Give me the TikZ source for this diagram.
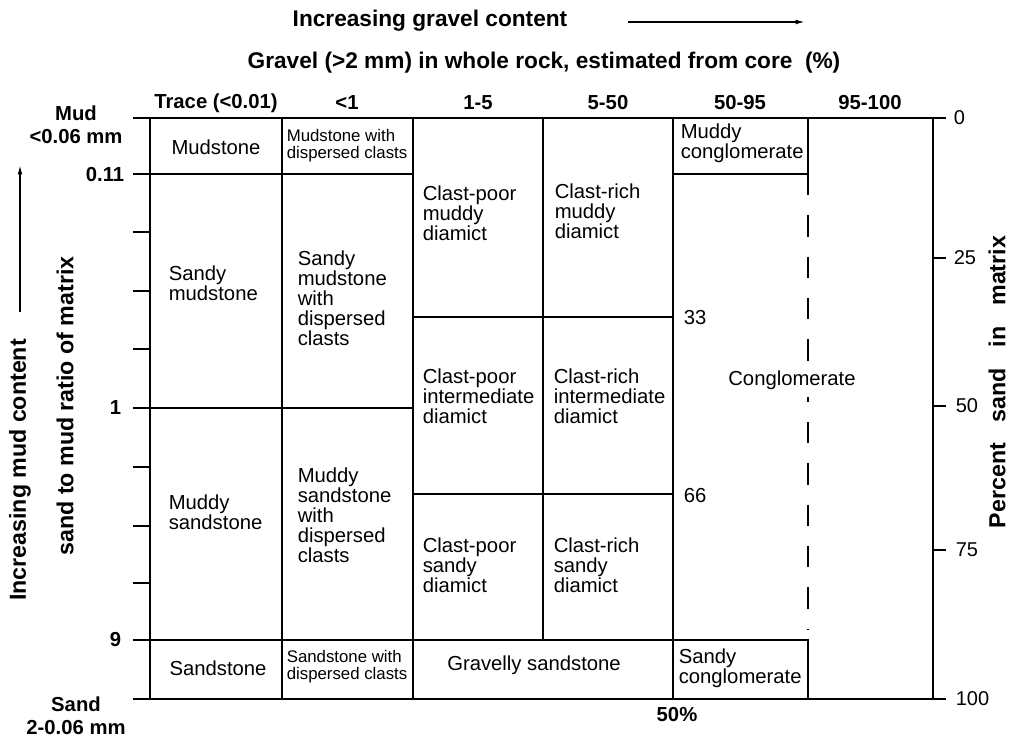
\documentclass[tikz,border=0pt]{standalone}
\usepackage{fontspec}
\setmainfont{Liberation Sans}
\usetikzlibrary{arrows.meta}

\begin{document}
\begin{tikzpicture}[x=0.75pt, y=-0.75pt, line width=1.2pt,
    cell/.style={align=left, anchor=west, inner sep=0pt, font=\fontsize{15.2}{15}\selectfont},
    small/.style={align=left, anchor=west, inner sep=0pt, font=\fontsize{12.6}{12.8}\selectfont},
    head/.style={inner sep=0pt, font=\fontsize{15.2}{17.5}\selectfont\bfseries},
    title/.style={inner sep=0pt, font=\fontsize{17}{17}\selectfont\bfseries},
    side/.style={inner sep=0pt, rotate=90, font=\fontsize{17.4}{17.4}\selectfont\bfseries},
    num/.style={anchor=west, inner sep=0pt, font=\fontsize{15}{15}\selectfont},
    arr/.style={line width=1pt, -{Latex[length=7pt, width=3.5pt]}}]
    \fill[white] (0,0) rectangle (1011,738);
    \useasboundingbox (0,0) rectangle (1011,738);

    % titles
    \node[title] (gravtitle) at (430,21) {Increasing gravel content};
    \coordinate (ga) at (628,22);
    \coordinate (gb) at (805,22);
    \draw[arr] (ga) -- (gb);
    \node[title] (gravaxis) at (544,63) {Gravel (>2 mm) in whole rock, estimated from core\ \ (\%)};

    % column heads
    \node[head] (h1) at (216,103) {Trace (<0.01)};
    \node[head] (h2) at (347,103) {<1};
    \node[head] (h3) at (478,103) {1-5};
    \node[head] (h4) at (608,103) {5-50};
    \node[head] (h5) at (740,103) {50-95};
    \node[head] (h6) at (870,103) {95-100};

    % frame and grid
    \draw (133,118) -- (946,118);
    \draw (133,699) -- (946,699);
    \foreach \x in {150,282,413,673,933}
        \draw (\x,118) -- (\x,699);
    \draw (543,118) -- (543,640);
    \draw (808,118) -- (808,174) -- (673,174);
    \draw (133,174) -- (413,174);
    \draw (133,408) -- (413,408);
    \draw (133,640) -- (808,640) -- (808,699);
    \draw (413,317) -- (673,317);
    \draw (413,494) -- (673,494);
    \draw[dash pattern=on 16pt off 15pt] (808,174) -- (808,630);

    % ticks
    \foreach \y in {232,291,349,467,526,583}
        \draw (133,\y) -- (150,\y);
    \foreach \y in {258,406,550}
        \draw (933,\y) -- (946,\y);

    % left scale
    \node[head, align=center] (mud) at (76,125) {Mud\\<0.06 mm};
    \node[head, anchor=east] (l011) at (125,175) {0.11};
    \node[head, anchor=east] (l1) at (122,408) {1};
    \node[head, anchor=east] (l9) at (122,640) {9};
    \node[head, align=center] (sand) at (76,716) {Sand\\2-0.06 mm};
    \node[side] (incmud) at (20,470) {Increasing mud content};
    \coordinate (ma) at (20,312);
    \coordinate (mb) at (20,165);
    \draw[arr] (ma) -- (mb);
    \node[side] (ratio) at (65,406) {sand to mud ratio of matrix};

    % right scale
    \node[num] (r0) at (953,118) {0};
    \node[num] (r25) at (953,258) {25};
    \node[num] (r50) at (955,406) {50};
    \node[num] (r75) at (955,550) {75};
    \node[num] (r100) at (955,699) {100};
    \node[side] (pctsand) at (997,382) {Percent\hspace{0.9em}sand\hspace{0.9em}in\hspace{0.9em}matrix};

    % cells
    \node[cell, anchor=center] (mudst) at (216,147) {Mudstone};
    \node[small] (mudcl) at (286,146) {Mudstone with\\dispersed clasts};
    \node[cell] (sdmud) at (168,283) {Sandy\\mudstone};
    \node[cell] (sdmudcl) at (297,298) {Sandy\\mudstone\\with\\dispersed\\clasts};
    \node[cell] (mdsand) at (168,512) {Muddy\\sandstone};
    \node[cell] (mdsandcl) at (297,515) {Muddy\\sandstone\\with\\dispersed\\clasts};
    \node[cell] (cpmud) at (422,213) {Clast-poor\\muddy\\diamict};
    \node[cell] (crmud) at (554,211) {Clast-rich\\muddy\\diamict};
    \node[cell] (cpint) at (422,396) {Clast-poor\\intermediate\\diamict};
    \node[cell] (crint) at (553,396) {Clast-rich\\intermediate\\diamict};
    \node[cell] (cpsand) at (422,565) {Clast-poor\\sandy\\diamict};
    \node[cell] (crsand) at (553,565) {Clast-rich\\sandy\\diamict};
    \node[cell] (mudcong) at (680,143) {Muddy\\conglomerate};
    \node[cell] (n33) at (683,318) {33};
    \node[cell] (n66) at (683,496) {66};
    \node[cell, anchor=center, fill=white, inner xsep=1pt, inner ysep=6pt] (cong) at (792,380) {Conglomerate};
    \node[cell, anchor=center] (sandst) at (218,668) {Sandstone};
    \node[small] (sandcl) at (286,667) {Sandstone with\\dispersed clasts};
    \node[cell, anchor=center] (gravsand) at (534,665) {Gravelly sandstone};
    \node[cell] (sdcong) at (678,668) {Sandy\\conglomerate};
    \node[head] (half) at (677,715) {50\%};
\end{tikzpicture}
\end{document}
